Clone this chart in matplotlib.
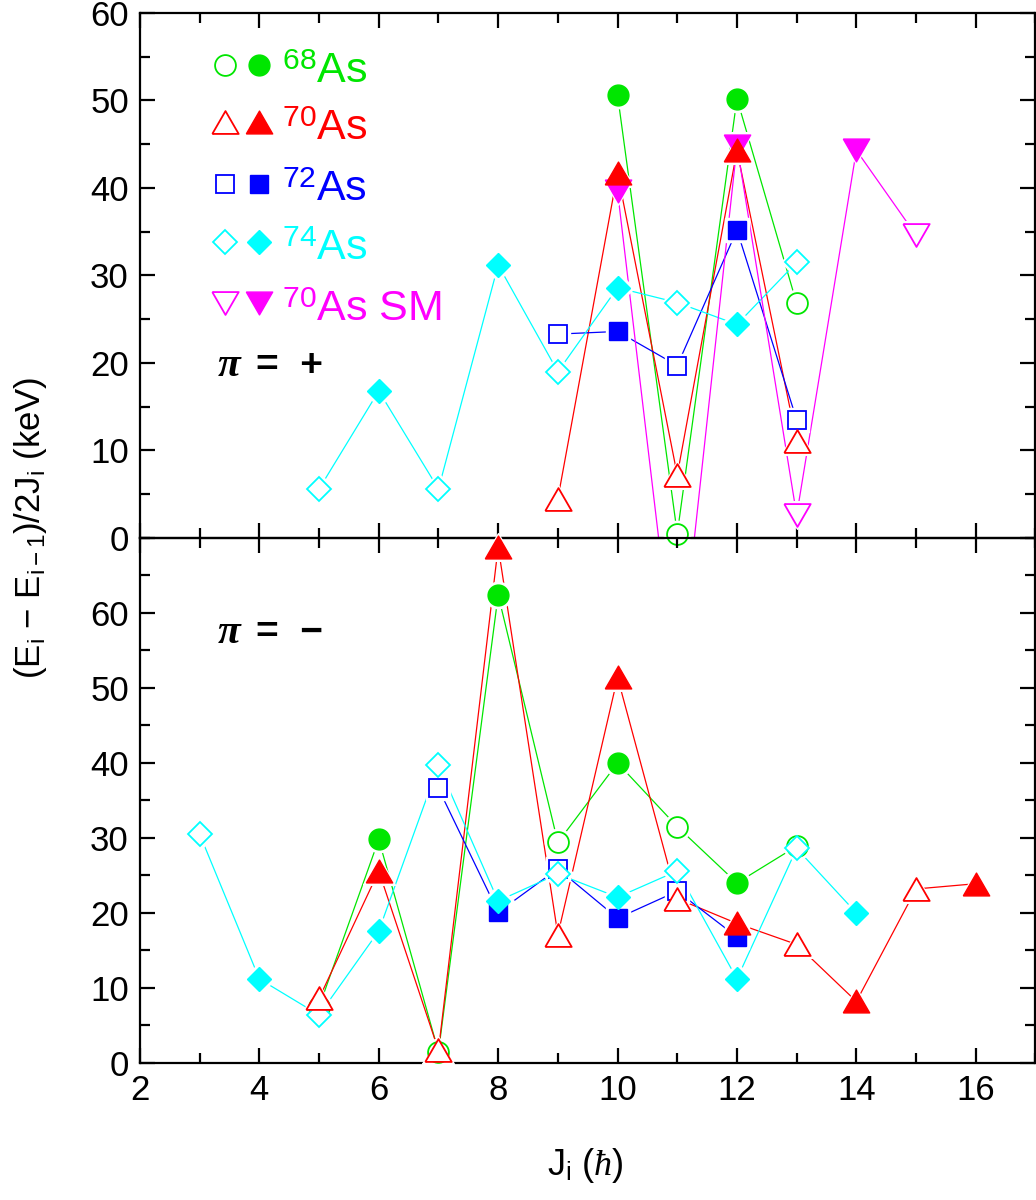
import numpy as np
import matplotlib
matplotlib.use('Agg')
import matplotlib.pyplot as plt
from matplotlib.ticker import MultipleLocator

plt.rcParams['font.family'] = ['Liberation Sans', 'DejaVu Sans']
plt.rcParams['mathtext.fontset'] = 'custom'
plt.rcParams['mathtext.rm'] = 'Liberation Sans'
plt.rcParams['mathtext.it'] = 'Liberation Serif:italic'
plt.rcParams['mathtext.bf'] = 'Liberation Sans:bold'

# ── data: positive parity (top panel) ─────────────
J68_pos = [10, 11, 12, 13]
E68_pos = [50.6, 0.5, 50.2, 26.8]
J70_pos = [9, 10, 11, 12, 13]
E70_pos = [4.5, 41.7, 7.2, 44.3, 11.1]
J72_pos = [9, 10, 11, 12, 13]
E72_pos = [23.3, 23.6, 19.7, 35.2, 13.5]
J74_pos = [5, 6, 7, 8, 9, 10, 11, 12, 13]
E74_pos = [5.6, 16.8, 5.6, 31.2, 19.0, 28.6, 26.9, 24.4, 31.5]
JSM_pos = [10, 11, 12, 13, 14, 15]
ESM_pos = [39.6, -18.0, 44.8, 2.6, 44.3, 34.6]

# ── data: negative parity (bottom panel) ──────────
J68_neg = [5, 6, 7, 8, 9, 10, 11, 12, 13]
E68_neg = [7.5, 29.8, 1.5, 62.4, 29.4, 40.0, 31.5, 24.0, 28.9]
J70_neg = [5, 6, 7, 8, 9, 10, 11, 12, 13, 14, 15, 16]
E70_neg = [8.6, 25.6, 1.7, 68.8, 17.1, 51.4, 21.9, 18.6, 15.8, 8.2, 23.2, 23.9]
J72_neg = [7, 8, 9, 10, 11, 12]
E72_neg = [36.6, 20.1, 25.9, 19.3, 22.9, 16.8]
J74_neg = [3, 4, 5, 6, 7, 8, 9, 10, 11, 12, 13, 14]
E74_neg = [30.5, 11.2, 6.4, 17.6, 39.7, 21.6, 25.2, 22.1, 25.6, 11.2, 28.6, 20.0]

labels = ['$^{68}$As', '$^{70}$As', '$^{72}$As', '$^{74}$As', '$^{70}$As SM']
colors = ['#00e600', '#ff0000', '#0000ff', '#00ffff', '#ff00ff']

# closed, equilateral-ish triangles like the Grace symbols
TRI_UP = [(-1, -0.866), (1, -0.866), (0, 0.866), (-1, -0.866)]
TRI_DN = [(-1, 0.866), (1, 0.866), (0, -0.866), (-1, 0.866)]
markers = ['o', TRI_UP, 's', 'D', TRI_DN]
msizes = [15, 19, 13.5, 12.5, 19]
order = [0, 4, 2, 3, 1]   # drawing order: red on top


def draw_series(ax, J, E, k, lo):
    J = np.array(J); E = np.array(E)
    c, m, ms = colors[k], markers[k], msizes[k]
    z = 4 + order.index(k) * 0.1
    ax.plot(J, E, '-', color=c, lw=0.9, zorder=2)
    keep = E >= lo
    J, E = J[keep], E[keep]
    odd = J % 2 == 1
    # white halo gives the small gaps between line and symbol
    ax.plot(J, E, ls='none', marker=m, ms=ms + 4, color='white',
            mec='white', zorder=3, clip_on=False)
    ax.plot(J[odd], E[odd], ls='none', marker=m, ms=ms, mfc='white',
            mec=c, mew=1.3, zorder=z, clip_on=False)
    ax.plot(J[~odd], E[~odd], ls='none', marker=m, ms=ms, mfc=c,
            mec=c, mew=1.0, zorder=z, clip_on=False)


fig = plt.figure(figsize=(10.36, 12), dpi=100)
ax1 = fig.add_axes([0.1351, 0.5517, 0.8644, 0.4375])
ax2 = fig.add_axes([0.1351, 0.1142, 0.8644, 0.4375])

for ax, top in [(ax1, 60), (ax2, 70)]:
    ax.patch.set_visible(False)   # let symbols spill over the shared edge
    ax.set_xlim(2, 17)
    ax.set_ylim(0, top)
    ax.xaxis.set_major_locator(MultipleLocator(2))
    ax.xaxis.set_minor_locator(MultipleLocator(1))
    ax.yaxis.set_major_locator(MultipleLocator(10))
    ax.yaxis.set_minor_locator(MultipleLocator(5))
    ax.tick_params(which='both', direction='in', top=True, right=True,
                   width=1.6, labelsize=25, pad=8)
    ax.tick_params(which='major', length=11)
    ax.tick_params(which='minor', length=7)
    for s in ax.spines.values():
        s.set_linewidth(1.6)

ax1.tick_params(labelbottom=False)
ax2.set_yticks(range(0, 70, 10))

top_sets = [(J68_pos, E68_pos, 0), (J70_pos, E70_pos, 1), (J72_pos, E72_pos, 2),
            (J74_pos, E74_pos, 3), (JSM_pos, ESM_pos, 4)]
bot_sets = [(J68_neg, E68_neg, 0), (J70_neg, E70_neg, 1), (J72_neg, E72_neg, 2),
            (J74_neg, E74_neg, 3)]
for J, E, k in top_sets:
    draw_series(ax1, J, E, k, 0)
for J, E, k in bot_sets:
    draw_series(ax2, J, E, k, 0)

# ── hand-made legend in the top panel ─────────────
rows = [54.0, 47.5, 40.5, 33.8, 26.8]
for k, yr in enumerate(rows):
    ax1.plot(3.42, yr, ls='none', marker=markers[k], ms=msizes[k], mfc='white',
             mec=colors[k], mew=1.3, zorder=5)
    ax1.plot(4.0, yr, ls='none', marker=markers[k], ms=msizes[k], mfc=colors[k],
             mec=colors[k], zorder=5)
    ax1.text(4.38, yr - 2.0, labels[k], color=colors[k], fontsize=31,
             va='baseline', ha='left')

for ax, yv, sign in [(ax1, 18.5, '+'), (ax2, 56.0, '\u2212')]:
    ax.text(3.3, yv, '\u03c0', fontsize=30, fontweight='bold', fontstyle='italic',
            family='Liberation Serif', va='baseline')
    ax.text(3.95, yv, '=  ' + sign, fontsize=28, fontweight='bold', va='baseline')

fig.text(0.029, 0.56, r'(E$_{\rm i}$ $-$ E$_{\rm i-1}$)/2J$_{\rm i}$ (keV)',
         rotation=90, ha='center', va='center', fontsize=25)
fig.text(0.565, 0.029, r'J$_{\rm i}$ ($\hbar$)', ha='center', va='center', fontsize=26)

fig.savefig('out.png', dpi=100)
